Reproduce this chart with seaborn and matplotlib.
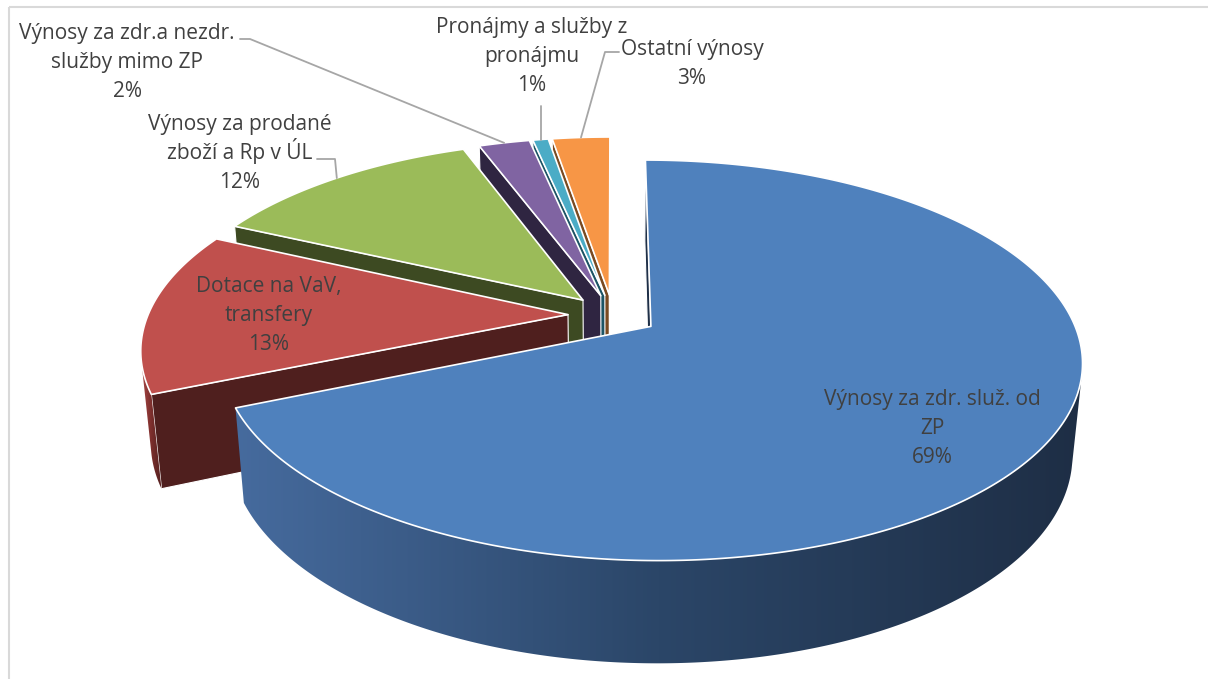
import numpy as np
import seaborn as sns
import matplotlib.pyplot as plt
from matplotlib.patches import Polygon, Rectangle

# data
labels = ["Výnosy za zdr. služ. od\nZP", "Dotace na VaV,\ntransfery",
          "Výnosy za prodané\nzboží a Rp v ÚL", "Výnosy za zdr.a nezdr.\nslužby mimo ZP",
          "Pronájmy a služby z\npronájmu", "Ostatní výnosy"]
values = [68.6, 13.4, 12.4, 2.3, 0.7, 2.6]
top_colors = ["#4F81BD", "#C0504D", "#9BBB59", "#8064A2", "#4BACC6", "#F79646"]
side_colors = ["#1F3048", "#4F1F1E", "#3D4A22", "#2F2541", "#1C5465", "#7A4A21"]
wall_grad = [["#466B9E", "#2B4668", "#1E2E45"], ["#B04A48", "#7A2E2C", "#4F1F1E"],
             ["#8AA74F", "#5C7035", "#3D4A22"], ["#725A91", "#4A3A60", "#2F2541"],
             ["#4299B1", "#2C6E80", "#1C5465"], ["#DC843E", "#A9652E", "#7A4A21"]]

# label placement: centre x, first baseline; leader start points
label_pos = [(932, 405), (269, 292), (240, 130), (127, 39), (532, 33), (692, 55)]
LINE_PITCH = 29
leaders = {2: [(317, 159), (335, 159)], 3: [(240, 39), (250, 39)],
           4: [(None, 106)], 5: [(619, 52), (605, 52)]}

# 3d look
CX, CY = 613, 315
R, EXPLODE, H = 420, 45, 103
ELEV = np.radians(27)
DIST = 2230
cam = np.array([0.0, DIST * np.sin(ELEV), -DIST * np.cos(ELEV)])


def project(X, Y, Z):
    X, Y, Z = np.asarray(X, float), np.asarray(Y, float), np.asarray(Z, float)
    up = Z * np.sin(ELEV) + Y * np.cos(ELEV)
    depth = Z * np.cos(ELEV) - Y * np.sin(ELEV)
    s = DIST / (DIST + depth)
    return CX + X * s, CY - up * s


layer = [1]


def poly(ax, xs, ys, fc, ec="white", lw=0.9):
    p = Polygon(np.column_stack([xs, ys]), closed=True, fc=fc, ec=ec, lw=lw,
                joinstyle="round", zorder=layer[0])
    layer[0] += 1
    ax.add_patch(p)
    return p


sns.set_theme(style="white")
plt.rcParams["font.family"] = ["Open Sans", "DejaVu Sans"]

fig = plt.figure(figsize=(12.08, 6.79), dpi=100)
ax = fig.add_axes([0, 0, 1, 1])
ax.axis("off")
ax.add_patch(Rectangle((9, 7), 1220, 700, fill=False, ec="#d9d9d9", lw=1.5))

frac = np.array(values) / np.sum(values)
ends = np.cumsum(frac) * 2 * np.pi
starts = ends - frac * 2 * np.pi
mids = (starts + ends) / 2
offs = [(EXPLODE * np.sin(m), EXPLODE * np.cos(m)) for m in mids]

# far slices first
order = sorted(range(len(values)), key=lambda i: -(offs[i][1] + 0.6 * R * np.cos(mids[i])))

for i in order:
    a0, a1 = starts[i], ends[i]
    ox, oz = offs[i]
    th = np.linspace(a0, a1, max(int(np.degrees(a1 - a0) * 2), 6))
    rx = ox + R * np.sin(th)
    rz = oz + R * np.cos(th)

    # radial side walls
    for a, sign in ((a0, -1), (a1, 1)):
        n = sign * np.array([np.cos(a), 0.0, -np.sin(a)])
        if np.dot(cam - np.array([ox, 0, oz]), n) <= 0:
            continue
        ex, ez = ox + R * np.sin(a), oz + R * np.cos(a)
        px, py = project([ox, ex, ex, ox], [0, 0, -H, -H], [oz, ez, ez, oz])
        poly(ax, px, py, side_colors[i], lw=0.8)

    # outer curved wall with a left-to-right gradient
    vis = (-rx) * np.sin(th) + (cam[2] - rz) * np.cos(th) > 0
    if vis.sum() > 1:
        wx, wz = rx[vis], rz[vis]
        tx, ty = project(wx, np.zeros(len(wx)), wz)
        bx, by = project(wx, np.full(len(wx), -H), wz)
        xs, ys = np.r_[tx, bx[::-1]], np.r_[ty, by[::-1]]
        clip = poly(ax, xs, ys, "none", ec="none", lw=0)
        pal = np.array(sns.blend_palette(wall_grad[i], 256))
        grad = np.tile(pal[None, :, :], (2, 1, 1))
        im = ax.imshow(grad, extent=[xs.min() - 1, xs.max() + 1, ys.max() + 1, ys.min() - 1],
                       aspect="auto", interpolation="bilinear", zorder=layer[0])
        layer[0] += 1
        im.set_clip_path(clip)

    # top face
    px, py = project(np.r_[ox, rx], np.zeros(len(th) + 1), np.r_[oz, rz])
    poly(ax, px, py, top_colors[i], lw=1.2)

ax.set_xlim(0, 1208)
ax.set_ylim(679, 0)

# labels and leader lines
for i, (lab, v) in enumerate(zip(labels, values)):
    x, y = label_pos[i]
    lines = lab.split("\n") + [f"{round(v)}%"]
    for k, line in enumerate(lines):
        ax.text(x, y + k * LINE_PITCH, line, ha="center", va="baseline", fontsize=15,
                color="#404040", zorder=100)
    if i in leaders:
        ox, oz = offs[i]
        ex, ez = project(ox + R * np.sin(mids[i]), 0, oz + R * np.cos(mids[i]))
        pts = [(ex if p[0] is None else p[0], p[1]) for p in leaders[i]] + [(ex, ez)]
        ax.plot(*zip(*pts), color="#a6a6a6", lw=1.3, zorder=99)

fig.savefig("out.png", dpi=100)
